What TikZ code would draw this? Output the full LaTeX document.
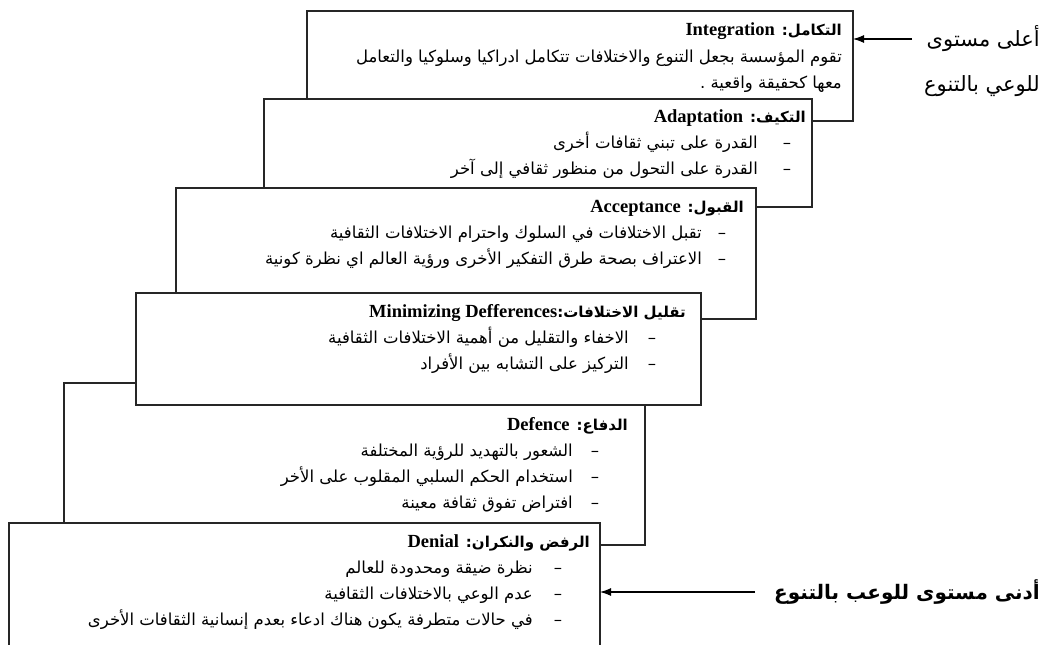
\documentclass[tikz,border=0pt]{standalone}
\usepackage{fontspec}
\usetikzlibrary{arrows.meta}
\TeXXeTstate=1
\newfontfamily\arabicfont[Script=Arabic]{DejaVu Sans}
\newfontfamily\latinfont{Liberation Serif}
\newcommand\bodyfont{\arabicfont\fontsize{16.5}{19}\selectfont}
\newcommand\sidefont{\arabicfont\fontsize{21}{24}\selectfont}
% one right-to-left line
\newcommand\rl[1]{\beginR #1\endR}
% stage title: Arabic name, then the English name in bold serif
\newcommand\stagetitle[2]{{\arabicfont\bfseries\fontsize{15}{18}\selectfont\beginR #1\beginL{\latinfont\bfseries\fontsize{18.5}{21}\selectfont #2}\endL\endR}}
\begin{document}
\begin{tikzpicture}[x=1pt,y=-1pt,
  stagebox/.style={draw=black!85,line width=1.1pt,fill=white,anchor=north west,inner sep=0pt,outer sep=0pt},
  headtext/.style={anchor=base east,inner sep=0pt},
  bodytext/.style={anchor=base east,inner sep=0pt,font=\bodyfont},
  bulletdash/.style={anchor=base,inner sep=0pt,font=\bodyfont},
  sidelabel/.style={anchor=base east,inner sep=0pt,font=\sidefont},
  arr/.style={line width=1.1pt,-{Latex[length=11pt,width=8pt]}}]
\useasboundingbox (0,0) rectangle (1047,645);

% Integration
\node[stagebox,minimum width=546pt,minimum height=110pt] (integ) at (307,11) {};
\node[headtext] (integH) at (842,35) {\stagetitle{التكامل: }{Integration}};
\node[bodytext] (integB1) at (842,62) {\rl{تقوم المؤسسة بجعل التنوع والاختلافات تتكامل ادراكيا وسلوكيا والتعامل}};
\node[bodytext] (integB2) at (842,88) {\rl{معها كحقيقة واقعية .}};

% Adaptation
\node[stagebox,minimum width=548pt,minimum height=108pt] (adapt) at (264,99) {};
\node[headtext] (adaptH) at (806,122) {\stagetitle{التكيف: }{Adaptation}};
\node[bulletdash] (adaptD1) at (787,148) {–};
\node[bodytext] (adaptB1) at (758,148) {\rl{القدرة على تبني ثقافات أخرى}};
\node[bulletdash] (adaptD2) at (787,174) {–};
\node[bodytext] (adaptB2) at (758,174) {\rl{القدرة على التحول من منظور ثقافي إلى آخر}};

% Acceptance
\node[stagebox,minimum width=580pt,minimum height=131pt] (accept) at (176,188) {};
\node[headtext] (acceptH) at (744,212) {\stagetitle{القبول: }{Acceptance}};
\node[bulletdash] (acceptD1) at (722,238) {–};
\node[bodytext] (acceptB1) at (702,238) {\rl{تقبل الاختلافات في السلوك واحترام الاختلافات الثقافية}};
\node[bulletdash] (acceptD2) at (722,264) {–};
\node[bodytext] (acceptB2) at (702,264) {\rl{الاعتراف بصحة طرق التفكير الأخرى ورؤية العالم اي نظرة كونية}};

% Defence: drawn before the box above it, which hides its top edge
\node[stagebox,minimum width=581pt,minimum height=162pt] (defence) at (64,383) {};

% Minimizing differences
\node[stagebox,minimum width=565pt,minimum height=112pt] (minim) at (136,293) {};
\node[headtext] (minimH) at (686,317) {\stagetitle{تقليل الاختلافات:}{Minimizing Defferences}};
\node[bulletdash] (minimD1) at (652,343) {–};
\node[bodytext] (minimB1) at (629,343) {\rl{الاخفاء والتقليل من أهمية الاختلافات الثقافية}};
\node[bulletdash] (minimD2) at (652,369) {–};
\node[bodytext] (minimB2) at (629,369) {\rl{التركيز على التشابه بين الأفراد}};

% Defence texts
\node[headtext] (defenceH) at (628,430) {\stagetitle{الدفاع: }{Defence}};
\node[bulletdash] (defenceD1) at (595,456) {–};
\node[bodytext] (defenceB1) at (573,456) {\rl{الشعور بالتهديد للرؤية المختلفة}};
\node[bulletdash] (defenceD2) at (595,482) {–};
\node[bodytext] (defenceB2) at (573,482) {\rl{استخدام الحكم السلبي المقلوب على الأخر}};
\node[bulletdash] (defenceD3) at (595,508) {–};
\node[bodytext] (defenceB3) at (573,508) {\rl{افتراض تفوق ثقافة معينة}};

% Denial
\node[stagebox,minimum width=591pt,minimum height=140pt] (denial) at (9,523) {};
\node[headtext] (denialH) at (590,547) {\stagetitle{الرفض والنكران: }{Denial}};
\node[bulletdash] (denialD1) at (558,573) {–};
\node[bodytext] (denialB1) at (533,573) {\rl{نظرة ضيقة ومحدودة للعالم}};
\node[bulletdash] (denialD2) at (558,599) {–};
\node[bodytext] (denialB2) at (533,599) {\rl{عدم الوعي بالاختلافات الثقافية}};
\node[bulletdash] (denialD3) at (558,625) {–};
\node[bodytext] (denialB3) at (533,625) {\rl{في حالات متطرفة يكون هناك ادعاء بعدم إنسانية الثقافات الأخرى}};

% side labels and their arrows
\node[sidelabel] (high1) at (1040,46) {\rl{أعلى مستوى}};
\node[sidelabel] (high2) at (1040,91) {\rl{للوعي بالتنوع}};
\node[sidelabel,font=\sidefont\bfseries\fontsize{20}{23}\selectfont] (low) at (1040,599) {\rl{أدنى مستوى  للوعب بالتنوع}};
\coordinate (highStart) at (912,39);
\coordinate (lowStart) at (755,592);
\draw[arr] (highStart) -- (highStart -| integ.east);
\draw[arr] (lowStart) -- (lowStart -| denial.east);
\end{tikzpicture}
\end{document}
